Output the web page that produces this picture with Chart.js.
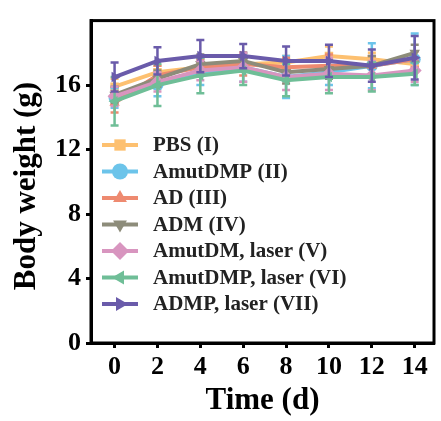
<!DOCTYPE html>
<html>
<head>
<meta charset="utf-8">
<script src="https://cdn.jsdelivr.net/npm/chart.js@4/dist/chart.umd.min.js"></script>
<style>
  html, body { margin: 0; padding: 0; background: #fff; }
  #wrap { width: 441px; height: 421px; }
</style>
</head>
<body>
<div id="wrap"><canvas id="bodyWeight" width="441" height="421"></canvas></div>
<script>
const days = [0, 2, 4, 6, 8, 10, 12, 14];
const yTicks = [0, 4, 8, 12, 16];

const groupNames = ["PBS (I)", "AmutDMP (II)", "AD (III)", "ADM (IV)", "AmutDM, laser (V)", "AmutDMP, laser (VI)", "ADMP, laser (VII)"];

// mean body weight (g) per group
const pbs      = [15.9, 16.8, 17.1, 17.3, 17.4, 17.8, 17.6, 17.3];
const amutDMP  = [15.2, 16.0, 16.8, 17.1, 16.5, 16.8, 17.2, 17.6];
const ad       = [14.9, 16.6, 17.1, 17.3, 17.1, 17.2, 17.2, 17.6];
const adm      = [15.4, 16.4, 17.3, 17.5, 16.8, 17.0, 17.2, 18.0];
const amutDM_L = [15.3, 16.2, 16.9, 17.1, 16.5, 16.7, 16.6, 16.9];
const amutDMP_L= [15.0, 16.0, 16.6, 16.9, 16.3, 16.5, 16.5, 16.7];
const admp_L   = [16.5, 17.5, 17.8, 17.8, 17.5, 17.5, 17.2, 17.7];

// standard deviations
const pbsErr      = [0.5, 0.4, 0.5, 0.4, 0.4, 0.6, 0.4, 0.5];
const amutDMPErr  = [0.6, 0.7, 0.8, 0.9, 1.3, 0.8, 1.4, 1.6];
const adErr       = [0.6, 0.6, 0.5, 0.7, 0.6, 0.7, 0.6, 0.5];
const admErr      = [0.5, 0.5, 0.6, 0.5, 0.7, 0.6, 0.6, 0.5];
const amutDM_LErr = [0.6, 0.6, 0.6, 0.9, 0.8, 1.0, 0.9, 0.7];
const amutDMP_LErr= [1.5, 1.3, 1.1, 0.9, 1.0, 1.0, 0.9, 0.7];
const admp_LErr   = [0.9, 0.85, 1.0, 0.75, 0.9, 1.0, 1.0, 1.35];

const series = [pbs, amutDMP, ad, adm, amutDM_L, amutDMP_L, admp_L];
const errors = [pbsErr, amutDMPErr, adErr, admErr, amutDM_LErr, amutDMP_LErr, admp_LErr];
const colors = ["#FDC070", "#6CC4EA", "#EE8A70", "#8D8C7A", "#D895BF", "#6FBE97", "#6A5BAA"];
const shapes = ["rect", "circle", "triangle", "triangle", "rectRot", "triangle", "triangle"];
const turns  = [0, 0, 0, 180, 0, -90, 90];

const serif = "'Liberation Serif', 'Times New Roman', serif";

const datasets = series.map(function (vals, i) {
  return {
    label: groupNames[i],
    data: vals.map(function (v, k) { return { x: days[k], y: v }; }),
    errs: errors[i],
    borderColor: colors[i],
    backgroundColor: colors[i],
    borderWidth: 4,
    pointStyle: shapes[i],
    rotation: turns[i],
    pointRadius: shapes[i] === "rectRot" ? 7 : 6,
    pointBorderWidth: 0,
    tension: 0,
    order: series.length - i,
  };
});

// error bars are drawn just before each line so the layering follows the datasets
const errorBars = {
  id: "errorBars",
  beforeDatasetDraw: function (chart, args) {
    const ds = chart.data.datasets[args.index];
    const ctx = chart.ctx;
    const xs = chart.scales.x, ys = chart.scales.y;
    ctx.save();
    ctx.strokeStyle = ds.borderColor;
    ctx.lineWidth = 2.5;
    ds.data.forEach(function (p, k) {
      const px = xs.getPixelForValue(p.x);
      const top = ys.getPixelForValue(p.y + ds.errs[k]);
      const bot = ys.getPixelForValue(p.y - ds.errs[k]);
      ctx.beginPath();
      ctx.moveTo(px, top); ctx.lineTo(px, bot);
      ctx.moveTo(px - 4, top); ctx.lineTo(px + 4, top);
      ctx.moveTo(px - 4, bot); ctx.lineTo(px + 4, bot);
      ctx.stroke();
    });
    ctx.restore();
  },
};

// legend sits inside the plot, below the curves
const innerLegend = {
  id: "innerLegend",
  afterDraw: function (chart) {
    const ctx = chart.ctx;
    const x0 = 102, x1 = 138, tx = 153, y0 = 145, step = 26.5;
    ctx.save();
    chart.data.datasets.forEach(function (ds, i) {
      const y = y0 + i * step;
      ctx.strokeStyle = ds.borderColor;
      ctx.lineWidth = 4;
      ctx.beginPath();
      ctx.moveTo(x0, y); ctx.lineTo(x1, y);
      ctx.stroke();
      ctx.fillStyle = ds.backgroundColor;
      Chart.helpers.drawPoint(ctx, {
        pointStyle: ds.pointStyle,
        rotation: ds.rotation,
        radius: ds.pointStyle === "rectRot" ? 9 : 8,
        borderWidth: 0,
      }, (x0 + x1) / 2, y);
      ctx.fillStyle = "#222";
      ctx.font = "bold 21px " + serif;
      ctx.textBaseline = "middle";
      ctx.fillText(ds.label, tx, y + 1);
    });
    ctx.restore();
  },
};

// closed frame around the plot, plus the rotated y title
const frame = {
  id: "frame",
  afterDraw: function (chart) {
    const a = chart.chartArea, ctx = chart.ctx;
    ctx.save();
    ctx.strokeStyle = "#000";
    ctx.lineWidth = 3;
    ctx.strokeRect(a.left, a.top, a.right - a.left, a.bottom - a.top);
    ctx.translate(27, 186);
    ctx.rotate(-Math.PI / 2);
    ctx.fillStyle = "#000";
    ctx.font = "bold 31px " + serif;
    ctx.textAlign = "center";
    ctx.textBaseline = "middle";
    ctx.fillText("Body weight (g)", 0, 0);
    ctx.restore();
  },
};

new Chart(document.getElementById("bodyWeight").getContext("2d"), {
  type: "line",
  data: { datasets: datasets },
  options: {
    responsive: false,
    animation: false,
    layout: { padding: { top: 14, right: 6, left: 0, bottom: 0 } },
    plugins: { legend: { display: false }, tooltip: { enabled: false } },
    scales: {
      x: {
        type: "linear",
        min: -1.1,
        max: 14.9,
        afterBuildTicks: function (scale) {
          scale.ticks = days.map(function (v) { return { value: v }; });
        },
        afterFit: function (scale) { scale.height = 78; },
        grid: { drawOnChartArea: false, tickLength: 5, tickWidth: 3, tickColor: "#000" },
        border: { color: "#000", width: 3 },
        ticks: { color: "#000", padding: 4, maxRotation: 0, font: { family: serif, size: 26, weight: "bold" } },
        title: {
          display: true,
          text: "Time (d)",
          color: "#000",
          padding: { top: 0, bottom: 1 },
          font: { family: serif, size: 31, weight: "bold" },
        },
      },
      y: {
        min: 0,
        max: 20,
        afterBuildTicks: function (scale) {
          scale.ticks = yTicks.map(function (v) { return { value: v }; });
        },
        afterFit: function (scale) { scale.width = 91; },
        grid: { drawOnChartArea: false, tickLength: 5, tickWidth: 3, tickColor: "#000" },
        border: { color: "#000", width: 3 },
        ticks: { color: "#000", padding: 5, font: { family: serif, size: 26, weight: "bold" } },
      },
    },
  },
  plugins: [errorBars, innerLegend, frame],
});
</script>
</body>
</html>
